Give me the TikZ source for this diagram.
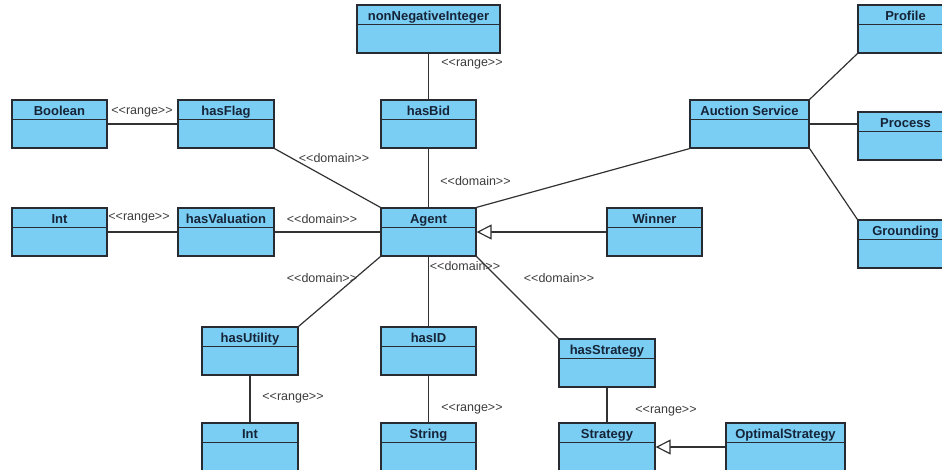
\documentclass[tikz,border=0pt]{standalone}
\usepackage{fontspec}
\setmainfont{Liberation Sans}
\usetikzlibrary{arrows.meta}
\definecolor{clsfill}{RGB}{122,205,243}
\definecolor{clsline}{RGB}{40,44,50}
\definecolor{connline}{RGB}{50,50,50}
\definecolor{hdrtext}{RGB}{22,36,56}
\definecolor{lbltext}{RGB}{60,60,60}
\newcommand\umlclass[5]{%
  \node[cls, minimum width=#4pt] (#1) at (#2,#3) {};
  \node[hdr, minimum width=#4pt] (#1-h) at (#1.north) {#5};}
\newcommand\stereo[1]{<\kern0pt<\kern0pt#1\kern0pt>\kern0pt>}
\begin{document}
\begin{tikzpicture}[x=1pt,y=-1pt,
  cls/.style={draw=clsline, fill=clsfill, line width=1.3pt, minimum height=48pt, inner sep=0pt},
  hdr/.style={draw=clsline, fill=clsfill, line width=1.3pt, minimum height=19.5pt, anchor=north, inner sep=0pt, text height=11.2pt, text depth=0pt, font=\fontsize{13}{15}\selectfont\bfseries, text=hdrtext},
  conn/.style={draw=connline, line width=1.2pt},
  lbl/.style={font=\fontsize{12.5}{14}\selectfont, text=lbltext, inner sep=0pt},
  gen/.style={conn, -{Triangle[open, length=15pt, width=15pt, fill=white]}}
]
\useasboundingbox (0,0) rectangle (942,469);
\clip (0,0) rectangle (942,469);
\fill[white] (0,0) rectangle (942,469);

\umlclass{nonneg}{428.5}{29}{143}{nonNegativeInteger}
\umlclass{hasbid}{428.5}{124}{95}{hasBid}
\umlclass{boolean}{59.5}{124}{95}{Boolean}
\umlclass{hasflag}{226}{124}{96}{hasFlag}
\umlclass{auction}{749.5}{124}{119}{Auction Service}
\umlclass{profile}{905.5}{29}{95}{Profile}
\umlclass{process}{905.5}{136}{95}{Process}
\umlclass{grounding}{905.5}{244}{95}{Grounding}
\umlclass{intv}{59.5}{232}{95}{Int}
\umlclass{hasval}{226}{232}{96}{hasValuation}
\umlclass{agent}{428.5}{232}{95}{Agent}
\umlclass{winner}{654.5}{232}{95}{Winner}
\umlclass{hasutil}{250}{351}{96}{hasUtility}
\umlclass{hasid}{428.5}{351}{95}{hasID}
\umlclass{hasstrat}{607}{363}{96}{hasStrategy}
\umlclass{intu}{250}{447}{96}{Int}
\umlclass{string}{428.5}{447}{95}{String}
\umlclass{strategy}{607}{447}{96}{Strategy}
\umlclass{optimal}{785.5}{447}{119}{OptimalStrategy}

\draw[conn] (boolean.east) -- (hasflag.west);
\draw[conn] (nonneg.south) -- (hasbid.north);
\draw[conn] (hasbid.south) -- (agent.north);
\draw[conn] (hasflag.south east) -- (agent.north west);
\draw[conn] (intv.east) -- (hasval.west);
\draw[conn] (hasval.east) -- (agent.west);
\draw[conn] (agent.north east) -- (auction.south west);
\draw[conn] (auction.north east) -- (profile.south west);
\draw[conn] (auction.east) -- (auction.east -| process.west);
\draw[conn] (auction.south east) -- (grounding.north west);
\draw[gen] (winner.west) -- (agent.east);
\draw[conn] (agent.south west) -- (hasutil.north east);
\draw[conn] (agent.south) -- (hasid.north);
\draw[conn] (agent.south east) -- (hasstrat.north west);
\draw[conn] (hasutil.south) -- (intu.north);
\draw[conn] (hasid.south) -- (string.north);
\draw[conn] (hasstrat.south) -- (strategy.north);
\draw[gen] (optimal.west) -- (strategy.east);

\node[lbl] (l1) at (142,112) {\stereo{range}};
\node[lbl] (l2) at (472,64) {\stereo{range}};
\node[lbl] (l3) at (334,158) {\stereo{domain}};
\node[lbl] (l4) at (475.5,181) {\stereo{domain}};
\node[lbl] (l5) at (139,218) {\stereo{range}};
\node[lbl] (l6) at (322,219) {\stereo{domain}};
\node[lbl] (l7) at (322,278) {\stereo{domain}};
\node[lbl] (l8) at (465,266) {\stereo{domain}};
\node[lbl] (l9) at (559,278) {\stereo{domain}};
\node[lbl] (l10) at (293,398) {\stereo{range}};
\node[lbl] (l11) at (472,409) {\stereo{range}};
\node[lbl] (l12) at (666,411) {\stereo{range}};
\end{tikzpicture}
\end{document}
